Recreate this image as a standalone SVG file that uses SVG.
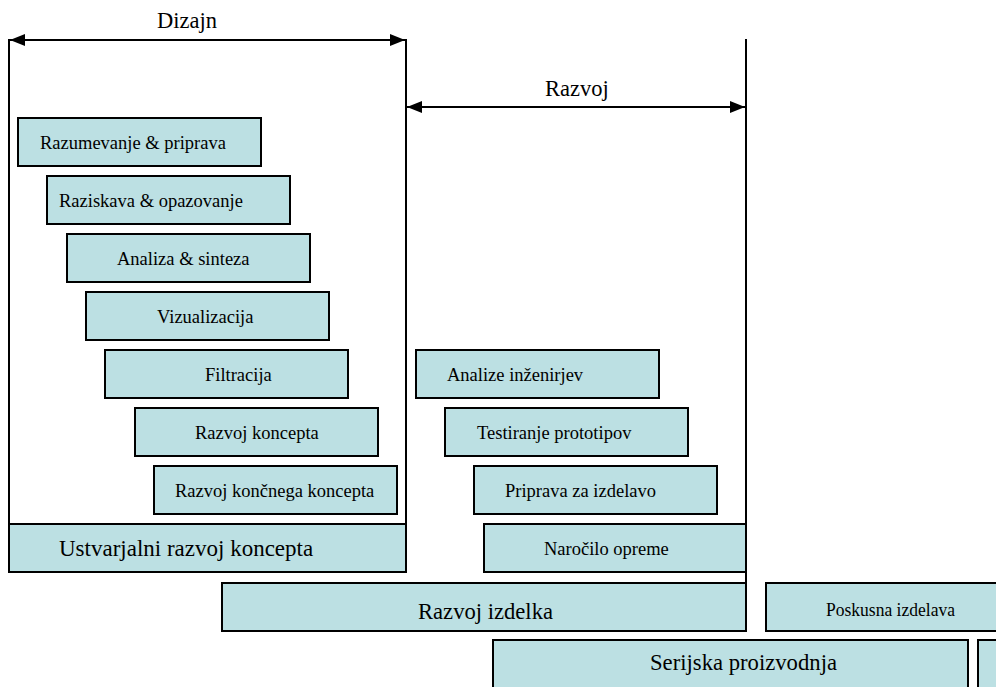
<svg xmlns="http://www.w3.org/2000/svg" width="996" height="687" viewBox="0 0 996 687">
  <defs>
    <marker id="arrow" viewBox="0 0 15 12" refX="15" refY="6" markerWidth="15" markerHeight="12" markerUnits="userSpaceOnUse" orient="auto-start-reverse">
      <path d="M0,0 L15,6 L0,12 Z" fill="#000"/>
    </marker>
  </defs>
  <style>
    .box { fill: #BCE0E3; stroke: #000; stroke-width: 2; }
    .line { stroke: #000; stroke-width: 2; fill: none; }
    text { font-family: "Liberation Serif", "Times New Roman", serif; fill: #000; }
    .s { font-size: 18.5px; }
    .m { font-size: 22.5px; }
    .l { font-size: 23px; }
  </style>

  <!-- phase brackets and span arrows -->
  <g id="connectors">
    <line class="line" x1="9" y1="39" x2="9" y2="524"/>
    <line class="line" x1="406" y1="39" x2="406" y2="524"/>
    <line class="line" x1="746" y1="39" x2="746" y2="583"/>
    <line class="line" x1="10" y1="40" x2="405" y2="40" marker-start="url(#arrow)" marker-end="url(#arrow)"/>
    <line class="line" x1="407" y1="107" x2="745" y2="107" marker-start="url(#arrow)" marker-end="url(#arrow)"/>
  </g>

  <g id="label-dizajn"><text class="m" x="157" y="28">Dizajn</text></g>
  <g id="label-razvoj"><text class="m" x="545" y="96">Razvoj</text></g>

  <!-- design steps -->
  <g id="razumevanje">
    <rect class="box" x="18" y="118" width="243" height="48"/>
    <text class="s" x="40" y="149">Razumevanje &amp; priprava</text>
  </g>
  <g id="raziskava">
    <rect class="box" x="47" y="176" width="243" height="48"/>
    <text class="s" x="59" y="207">Raziskava &amp; opazovanje</text>
  </g>
  <g id="analiza">
    <rect class="box" x="67" y="234" width="243" height="48"/>
    <text class="s" x="117" y="265">Analiza &amp; sinteza</text>
  </g>
  <g id="vizualizacija">
    <rect class="box" x="86" y="292" width="243" height="48"/>
    <text class="s" x="157" y="323">Vizualizacija</text>
  </g>
  <g id="filtracija">
    <rect class="box" x="105" y="350" width="243" height="48"/>
    <text class="s" x="205" y="381">Filtracija</text>
  </g>
  <g id="razvoj-koncepta">
    <rect class="box" x="135" y="408" width="243" height="48"/>
    <text class="s" x="195" y="439">Razvoj koncepta</text>
  </g>
  <g id="razvoj-koncnega">
    <rect class="box" x="154" y="466" width="243" height="48"/>
    <text class="s" x="175" y="497">Razvoj končnega koncepta</text>
  </g>
  <g id="ustvarjalni">
    <rect class="box" x="9" y="524" width="397" height="48"/>
    <text class="l" x="59" y="556">Ustvarjalni razvoj koncepta</text>
  </g>

  <!-- development steps -->
  <g id="analize-inzenirjev">
    <rect class="box" x="416" y="350" width="243" height="48"/>
    <text class="s" x="447" y="381">Analize inženirjev</text>
  </g>
  <g id="testiranje">
    <rect class="box" x="445" y="408" width="243" height="48"/>
    <text class="s" x="477" y="439">Testiranje prototipov</text>
  </g>
  <g id="priprava">
    <rect class="box" x="474" y="466" width="243" height="48"/>
    <text class="s" x="505" y="497">Priprava za izdelavo</text>
  </g>
  <g id="narocilo">
    <rect class="box" x="484" y="524" width="262" height="48"/>
    <text class="s" x="544" y="555">Naročilo opreme</text>
  </g>

  <!-- product stages -->
  <g id="razvoj-izdelka">
    <rect class="box" x="222" y="583" width="524" height="48"/>
    <text class="l" x="418" y="619" textLength="135" lengthAdjust="spacingAndGlyphs">Razvoj izdelka</text>
  </g>
  <g id="poskusna">
    <rect class="box" x="766" y="583" width="240" height="48"/>
    <text class="s" x="826" y="616" textLength="129" lengthAdjust="spacingAndGlyphs">Poskusna izdelava</text>
  </g>
  <g id="serijska">
    <rect class="box" x="493" y="640" width="475" height="60"/>
    <text class="l" x="650" y="670" textLength="187" lengthAdjust="spacingAndGlyphs">Serijska proizvodnja</text>
  </g>
  <g id="naslednja">
    <rect class="box" x="978" y="640" width="40" height="60"/>
  </g>
</svg>
